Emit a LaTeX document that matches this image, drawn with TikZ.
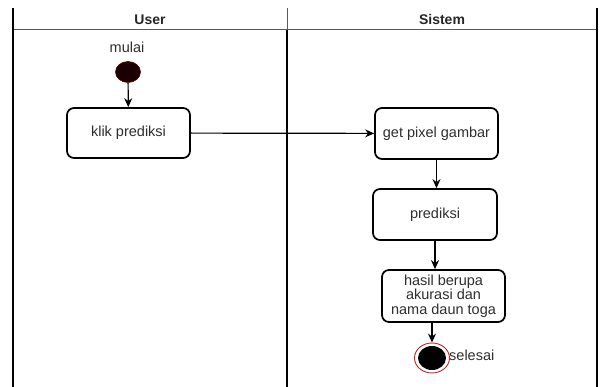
\documentclass[tikz,border=0pt]{standalone}
\usepackage{fontspec}
\setmainfont{Liberation Sans}
\usetikzlibrary{arrows.meta,shapes.geometric}
\definecolor{txt}{HTML}{2E2E2E}
\definecolor{ringred}{HTML}{CC2222}
\definecolor{dotdark}{HTML}{1A0000}
\begin{document}
\begin{tikzpicture}[x=1pt,y=-1pt,
  every node/.style={font=\fontsize{14.5}{14.7}\selectfont, text=txt},
  actbox/.style={draw=black, line width=1.7pt, rounded corners=7pt, fill=white,
    align=center, inner sep=2pt},
  flow/.style={draw=black, line width=1.2pt, -{Stealth[length=9pt,width=8pt]}},
  lane/.style={draw=black, line width=1.3pt},
  headline/.style={draw=black!65, line width=1pt},
  headtext/.style={font=\bfseries\fontsize{14}{15}\selectfont, text=black!85}
]
\useasboundingbox (0,0) rectangle (600,387);

% swimlane frame
\draw[headline] (13,30) -- (597,30);
\draw[lane] (13,8) -- (13,387);
\draw[lane, line width=1.8pt] (597,8) -- (597,387);
\draw[headline] (287,8) -- (287,30);
\draw[lane, line width=2.4pt] (287,30) -- (287,387);
\node[headtext] (hUser) at (150,19.5) {User};
\node[headtext] (hSistem) at (442,19.5) {Sistem};

% start node
\node (lblStart) at (127,47) {mulai};
\node[ellipse, draw=dotdark!70!red, line width=0.6pt, fill=dotdark,
      minimum width=25pt, minimum height=21pt, inner sep=0pt] (start) at (128,72) {};

% actions
\node[actbox, minimum width=123pt, minimum height=50pt] (klik) at (128.5,133) {klik prediksi};
\node[actbox, minimum width=123pt, minimum height=51pt] (pixel) at (436.5,133.5) {get pixel gambar};
\node[actbox, minimum width=124pt, minimum height=51pt] (pred) at (435,214.5) {prediksi};
\node[actbox, minimum width=123pt, minimum height=52pt] (hasil) at (443.5,296) {hasil berupa\\akurasi dan\\nama daun toga};

% end node
\node[ellipse, draw=ringred, line width=0.9pt, fill=white,
      minimum width=35pt, minimum height=30pt, inner sep=0pt] (end) at (432,358) {};
\node[ellipse, fill=black, minimum width=28pt, minimum height=24pt, inner sep=0pt] (endDot) at (end.center) {};
\node[anchor=west, inner sep=0pt] (lblEnd) at (449,355) {selesai};

% control flow
\draw[flow] (start) -- (klik);
\draw[flow] (klik) -- (pixel);
\draw[flow] (pixel.south) -- (pixel.south |- pred.north);
\draw[flow] (pred.south) -- (pred.south |- hasil.north);
\draw[flow] (end.north |- hasil.south) -- (end);
\end{tikzpicture}
\end{document}
